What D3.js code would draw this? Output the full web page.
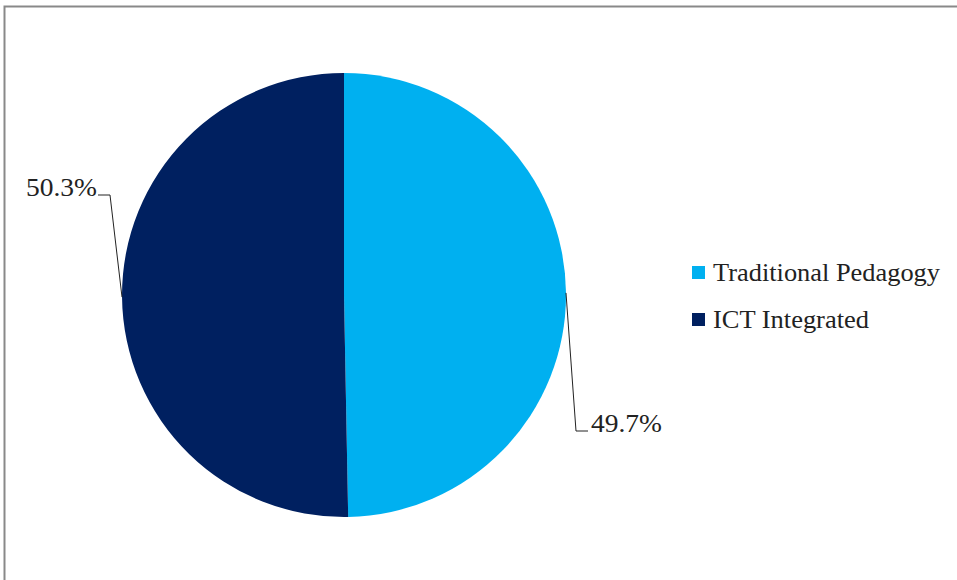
<!DOCTYPE html>
<html>
<head>
<meta charset="utf-8">
<script src="https://cdn.jsdelivr.net/npm/d3@7"></script>
<style>
  body { margin: 0; background: #fff; }
  svg { display: block; }
</style>
</head>
<body>
<svg id="chart" width="957" height="580"></svg>
<script>
// data
const categories = ['Traditional Pedagogy', 'ICT Integrated'];
const values = [49.7, 50.3];
const colors = ['#00B0F0', '#002060'];

const FONT = "'Liberation Serif', 'Times New Roman', Times, serif";

const svg = d3.select('#chart');
const cx = 344, cy = 295, r = 222;

// frame
svg.append('rect')
  .attr('x', 4.5).attr('y', 6.5)
  .attr('width', 980).attr('height', 620)
  .attr('fill', 'none')
  .attr('stroke', '#898989')
  .attr('stroke-width', 2);

const pie = d3.pie().sort(null).value(d => d)(values);
const arc = d3.arc().innerRadius(0).outerRadius(r);

const g = svg.append('g').attr('transform', `translate(${cx},${cy})`);

g.selectAll('path')
  .data(pie)
  .join('path')
  .attr('d', arc)
  .attr('fill', (d, i) => colors[i]);

// leader lines + labels
const fmt = v => v.toFixed(1) + '%';
const labelSpots = [
  {elbow: [576, 431], dir: 1},   // right side, goes down
  {elbow: [110, 195], dir: -1}   // left side, goes up
];

pie.forEach((d, i) => {
  const mid = (d.startAngle + d.endAngle) / 2;
  const sx = cx + Math.sin(mid) * r;
  const sy = cy - Math.cos(mid) * r;
  const s = labelSpots[i];
  const ex = s.elbow[0], ey = s.elbow[1];
  const hx = ex + s.dir * 12;
  svg.append('polyline')
    .attr('points', `${sx},${sy} ${ex},${ey} ${hx},${ey}`)
    .attr('fill', 'none')
    .attr('stroke', '#222')
    .attr('stroke-width', 1);
  svg.append('text')
    .attr('x', s.dir > 0 ? hx + 3 : hx - 1)
    .attr('y', ey + 1)
    .attr('text-anchor', s.dir > 0 ? 'start' : 'end')
    .attr('font-family', FONT)
    .attr('font-size', 25)
    .attr('fill', '#222')
    .attr('textLength', 71)
    .attr('lengthAdjust', 'spacingAndGlyphs')
    .text(fmt(values[i]));
});

// legend
const legendWidths = [227, 156];
const legend = svg.append('g').attr('transform', 'translate(692,266)');
const rows = legend.selectAll('g')
  .data(categories)
  .join('g')
  .attr('transform', (d, i) => `translate(0,${i * 47})`);
rows.append('rect')
  .attr('width', 13).attr('height', 13)
  .attr('fill', (d, i) => colors[i]);
rows.append('text')
  .attr('x', 21).attr('y', 15)
  .attr('font-family', FONT)
  .attr('font-size', 25)
  .attr('fill', '#222')
  .attr('textLength', (d, i) => legendWidths[i])
  .attr('lengthAdjust', 'spacingAndGlyphs')
  .text(d => d);
</script>
</body>
</html>
